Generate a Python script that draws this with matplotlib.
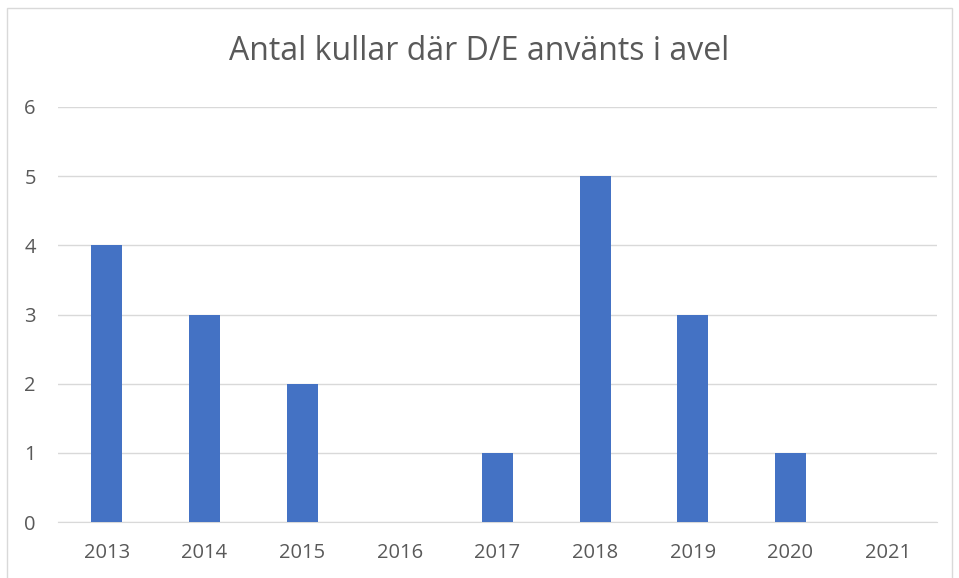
import matplotlib.pyplot as plt
import numpy as np

# --- DATA ---
years = ["2013", "2014", "2015", "2016", "2017", "2018", "2019", "2020", "2021"]
kullar = [4, 3, 2, 0, 1, 5, 3, 1, 0]

plt.rcParams['font.family'] = ['Open Sans', 'DejaVu Sans']

fig = plt.figure(figsize=(9.59, 5.78), dpi=100)
ax = fig.add_axes([58 / 959, 1 - 522 / 578, 879 / 959, 415 / 578])

x = np.arange(len(years))
ax.bar(x, kullar, width=0.32, color='#4472C4', zorder=3)

ax.set_xlim(-0.5, len(years) - 0.5)
ax.set_ylim(0, 6)
ax.set_yticks(range(0, 7))
ax.set_xticks(x)
ax.set_xticklabels(years)
ax.grid(axis='y', color='#d9d9d9', linewidth=1, zorder=0)
ax.tick_params(axis='both', length=0, labelsize=14.5, labelcolor='#595959')
ax.tick_params(axis='x', pad=15)
ax.tick_params(axis='y', pad=16)
for s in ['top', 'right', 'left']:
    ax.spines[s].set_visible(False)
ax.spines['bottom'].set_color('#d9d9d9')

fig.text(0.5, 1 - 52 / 578, 'Antal kullar där D/E använts i avel', ha='center', va='center',
         fontsize=23, color='#595959')

# ram runt diagrammet
fig.patches.append(plt.Rectangle((7 / 959, -0.01), 945 / 959, 1 - 8 / 578 + 0.01,
                                 transform=fig.transFigure,
                                 fill=False, edgecolor='#d9d9d9', linewidth=1))

fig.savefig('out.png', dpi=100)
